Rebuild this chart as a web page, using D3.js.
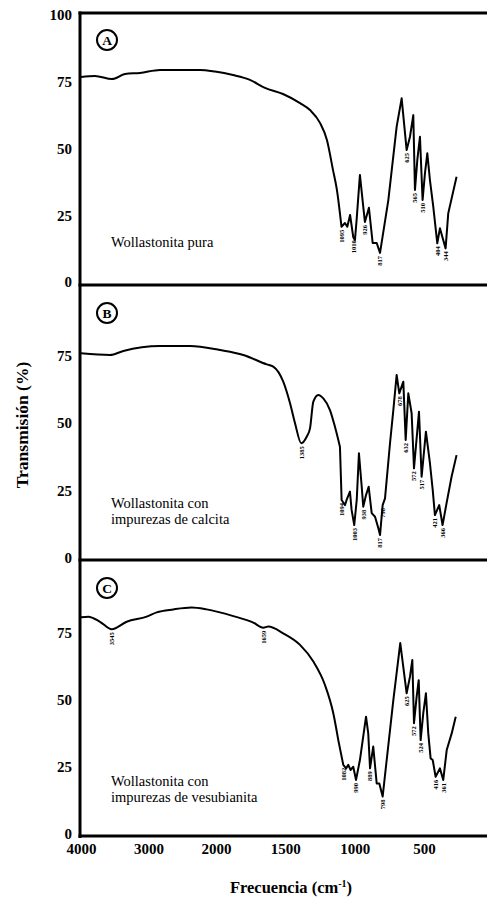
<!DOCTYPE html>
<html>
<head>
<meta charset="utf-8">
<script src="https://cdn.jsdelivr.net/npm/d3@7"></script>
<style>
  html, body { margin: 0; padding: 0; background: #fff; }
  svg { display: block; }
  text { fill: #000; }
</style>
</head>
<body>
<script>
// Wavenumber axis ticks (cm-1) and transmission ticks (%)
const wavenumberTicks = [4000, 3000, 2000, 1500, 1000, 500];
const transTicksTop = [0, 25, 50, 75, 100];
const transTicks = [0, 25, 50, 75];

// A: pure wollastonite
const waveA = [4000, 3793, 3541, 3348, 3126, 2830, 2237, 2015, 1877, 1755, 1647, 1517, 1394, 1322, 1250, 1200, 1156, 1128,
  1095, 1070, 1053, 1033, 1010, 998, 986, 962, 938, 926, 897, 870, 841, 817, 757, 697, 661, 625, 601, 577, 565, 548,
  529, 510, 493, 476, 457, 433, 404, 385, 344, 325, 265];
const transA = [76.8, 77.2, 76.0, 77.9, 78.3, 79.4, 79.4, 78.8, 77.5, 75.7, 72.7, 70.4, 67.0, 64.4, 59.6, 53.2, 41.9, 34.5,
  20.7, 22.1, 20.7, 25.1, 16.8, 15.7, 23.2, 40.1, 28.2, 22.5, 27.8, 14.6, 14.6, 10.9, 30.7, 58.2, 68.8, 49.4, 54.4, 62.5, 34.5, 45.7,
  54.4, 30.7, 40.7, 48.2, 38.2, 28.2, 14.5, 20.1, 12.6, 25.7, 39.4];
const bandsA = [1095, 1010, 926, 817, 625, 565, 510, 404, 344];

// B: wollastonite with calcite impurities
const waveB = [4000, 3570, 3373, 2830, 2385, 1971, 1803, 1634, 1587, 1515, 1466, 1430, 1385, 1346, 1322, 1298, 1262, 1226,
  1178, 1142, 1106, 1094, 1070, 1058, 1034, 1022, 1003, 985, 969, 949, 938, 918, 899, 877, 853, 829, 817, 798, 781, 745,
  721, 697, 678, 649, 632, 613, 589, 572, 536, 517, 486, 457, 437, 421, 390, 366, 337, 301, 265];
const transB = [75.8, 75.2, 76.7, 78.5, 78.5, 77.0, 75.2, 71.7, 70.9, 65.3, 57.3, 49.9, 42.5, 44.9, 48.0, 57.9, 60.4, 59.1,
  54.8, 48.6, 41.2, 21.5, 19.6, 21.5, 24.6, 17.8, 12.2, 21.5, 38.8, 26.4, 19.0, 23.3, 26.4, 16.6, 15.3, 11.0, 8.5, 19.6, 22.1, 42.5,
  54.8, 67.8, 61.0, 65.3, 43.7, 61.0, 53.6, 33.2, 54.2, 30.1, 46.8, 35.1, 25.2, 15.9, 19.6, 12.2, 20.3, 30.1, 38.1];
const bandsB = [1385, 1094, 1003, 938, 817, 798, 678, 632, 572, 517, 421, 366];

// C: wollastonite with vesuvianite impurities
const waveC = [4000, 3892, 3719, 3545, 3323, 3027, 2879, 2633, 2360, 2138, 1875, 1731, 1659, 1623, 1515, 1394, 1298, 1214,
  1154, 1118, 1082, 1062, 1046, 1029, 1010, 990, 962, 918, 902, 889, 866, 841, 822, 798, 769, 721, 671, 625, 601, 584,
  572, 553, 538, 524, 505, 486, 469, 452, 437, 416, 385, 361, 336, 300, 271];
const transC = [80.6, 80.8, 78.9, 76.1, 78.9, 80.8, 82.4, 83.5, 84.2, 83.5, 81.0, 78.6, 76.7, 77.1, 74.6, 70.3, 64.1, 55.4,
  44.9, 34.9, 25.7, 24.4, 25.7, 23.8, 25.0, 20.1, 27.5, 43.6, 37.4, 24.4, 32.5, 18.8, 18.8, 13.9, 27.5, 49.8, 71.0, 52.3, 58.5, 64.7,
  41.2, 51.0, 57.2, 34.9, 44.9, 52.3, 37.4, 28.1, 27.5, 21.3, 24.4, 20.1, 31.2, 37.4, 43.6];
const bandsC = [3545, 1659, 1082, 990, 889, 798, 625, 572, 524, 416, 361];

const panels = [
  { letter: "A", wave: waveA, trans: transA, bands: bandsA, ticks: transTicksTop,
    top: 15, bottom: 282, lines: ["Wollastonita pura"], textY: 247, circleY: 40 },
  { letter: "B", wave: waveB, trans: transB, bands: bandsB, ticks: transTicks,
    top: 288, bottom: 558, lines: ["Wollastonita con", "impurezas de calcita"], textY: 508, circleY: 313 },
  { letter: "C", wave: waveC, trans: transC, bands: bandsC, ticks: transTicks,
    top: 565, bottom: 834, lines: ["Wollastonita con", "impurezas de vesubianita"], textY: 786, circleY: 588 }
];

const W = 487, H = 897;
const axisX = 80;
const serif = "'Liberation Serif', 'DejaVu Serif', serif";
// Broad envelope above this wavenumber is drawn smooth; the sharp fingerprint bands below stay angular
const smoothAbove = 1120;

const svg = d3.select("body").append("svg")
  .attr("width", W).attr("height", H)
  .attr("viewBox", `0 0 ${W} ${H}`);

// Spectrometer chart: 4000-2000 cm-1 drawn at half the scale of 2000-0 cm-1
const x = d3.scaleLinear().domain([4000, 2000, 0]).range([81, 216, 493.3]);

const smoothLine = d3.line().curve(d3.curveMonotoneX);
const sharpLine = d3.line().curve(d3.curveLinear);

panels.forEach(p => {
  const y = d3.scaleLinear().domain([0, 100]).range([p.bottom, p.top]);
  const g = svg.append("g");

  // Transmission tick labels
  const yAxis = d3.axisLeft(y).tickValues(p.ticks).tickSize(0).tickPadding(8).tickFormat(d3.format("d"));
  const ya = g.append("g").attr("transform", `translate(${axisX},0)`).call(yAxis);
  ya.select(".domain").remove();
  ya.selectAll("text")
    .attr("font-family", serif).attr("font-weight", "bold").attr("font-size", 15).attr("fill", "#000");

  // Spectrum
  const pts = p.wave.map((w, i) => [x(w), y(p.trans[i])]);
  const split = p.wave.findIndex(w => w < smoothAbove);
  const d = smoothLine(pts.slice(0, split + 1)) + sharpLine(pts.slice(split)).replace(/^M[^L]*/, "");
  g.append("path")
    .attr("d", d)
    .attr("fill", "none").attr("stroke", "#000").attr("stroke-width", 2)
    .attr("stroke-linejoin", "round");

  // Band labels under the absorption minima
  p.bands.forEach(b => {
    const i = p.wave.indexOf(b);
    const bx = x(b), by = y(p.trans[i]) + 3;
    g.append("text")
      .attr("transform", `translate(${bx + 2.4},${by}) rotate(-90)`)
      .attr("text-anchor", "end")
      .attr("font-family", serif).attr("font-weight", "bold").attr("font-size", 6.5)
      .text(b);
  });

  // Panel letter in a circle
  g.append("circle").attr("cx", 107).attr("cy", p.circleY).attr("r", 10)
    .attr("fill", "none").attr("stroke", "#000").attr("stroke-width", 2);
  g.append("text").attr("x", 107).attr("y", p.circleY + 5)
    .attr("text-anchor", "middle")
    .attr("font-family", serif).attr("font-weight", "bold").attr("font-size", 13.5)
    .text(p.letter);

  // Sample description
  p.lines.forEach((t, k) => {
    g.append("text").attr("x", 111).attr("y", p.textY + k * 16)
      .attr("font-family", serif).attr("font-size", 14.5)
      .text(t);
  });
});

// Frame: left axis and panel separators
[13, 285, 560, 836].forEach(yy => {
  svg.append("line").attr("x1", axisX - 1.5).attr("x2", W).attr("y1", yy).attr("y2", yy)
    .attr("stroke", "#000").attr("stroke-width", 3);
});
svg.append("line").attr("x1", axisX).attr("x2", axisX).attr("y1", 11.5).attr("y2", 838)
  .attr("stroke", "#000").attr("stroke-width", 3);

// Wavenumber axis labels
const xAxis = d3.axisBottom(x).tickValues(wavenumberTicks).tickSize(0).tickPadding(7).tickFormat(d3.format("d"));
const xa = svg.append("g").attr("transform", "translate(0,836)").call(xAxis);
xa.select(".domain").remove();
xa.selectAll("text")
  .attr("font-family", serif).attr("font-weight", "bold").attr("font-size", 15).attr("fill", "#000");

// Axis titles
svg.append("text")
  .attr("transform", "translate(28,425) rotate(-90)")
  .attr("text-anchor", "middle")
  .attr("font-family", serif).attr("font-weight", "bold").attr("font-size", 17.5)
  .text("Transmisión (%)");

const xt = svg.append("text")
  .attr("x", 291).attr("y", 893)
  .attr("text-anchor", "middle")
  .attr("font-family", serif).attr("font-weight", "bold").attr("font-size", 16.5);
xt.append("tspan").text("Frecuencia (cm");
xt.append("tspan").attr("dy", -6).attr("font-size", 10).text("-1");
xt.append("tspan").attr("dy", 6).text(")");
</script>
</body>
</html>
